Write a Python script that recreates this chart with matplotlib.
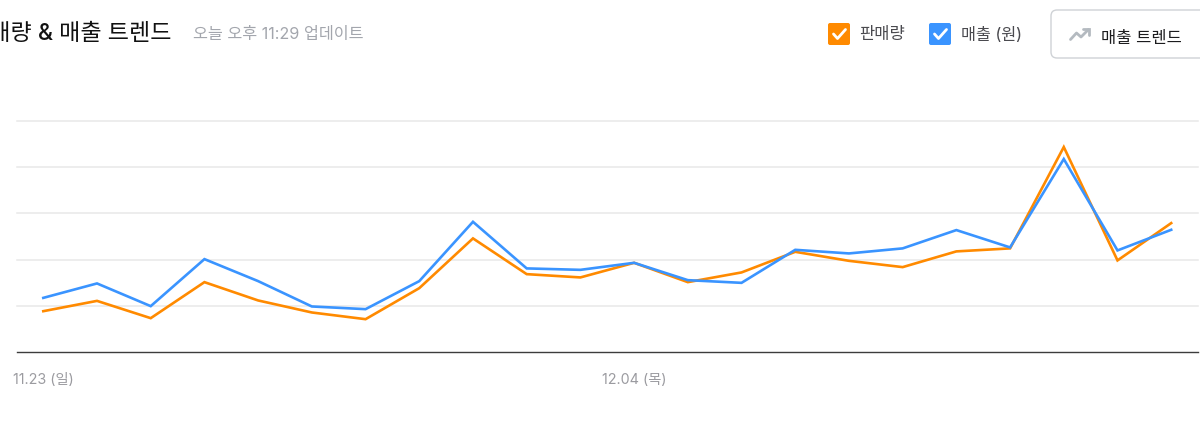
import matplotlib
matplotlib.use("Agg")
import matplotlib.pyplot as plt
from matplotlib.patches import FancyBboxPatch

plt.rcParams['font.family'] = ['Inter', 'Noto Sans CJK KR', 'DejaVu Sans']

# ---- data ----
points = list(range(22))
tick_positions = [0, 11]
tick_labels = ["11.23 (일)", "12.04 (목)"]
sales_qty = [88.7, 111, 73.6, 151.5, 111.9, 85.9, 71.4, 138.5, 246.1, 168.8, 161.7,
             193.3, 151.5, 172.5, 217.1, 197.6, 184, 218, 224.5, 443.7, 198.5, 279.2]
revenue = [117.5, 148.7, 99.6, 201.3, 153.7, 98.9, 93.1, 153.7, 282, 181.2, 178.1,
           193.3, 155.8, 150, 221.4, 213.6, 224.5, 264.1, 226.6, 417.7, 220.1, 264.7]
grid_values = [100, 200, 300, 400, 500]
title = "판매량 & 매출 트렌드"
subtitle = "오늘 오후 11:29 업데이트"
legend_qty = "판매량"
legend_rev = "매출 (원)"
button_label = "매출 트렌드"

ORANGE = "#ff8a00"
BLUE = "#3a94ff"
W, H = 1200, 424

fig = plt.figure(figsize=(W / 100, H / 100), dpi=100, facecolor="white")

# ---- chart ----
left, right, top, bottom = 17, 1198, 121.0, 352.2
ax = fig.add_axes([left / W, 1 - bottom / H, (right - left) / W, (bottom - top) / H])
x0_px, step_px = 43.3, 53.71
ax.set_xlim((left - x0_px) / step_px, (right - x0_px) / step_px)
ax.set_ylim(0, 500)
ax.set_facecolor("none")
for s in ("top", "left", "right"):
    ax.spines[s].set_visible(False)
ax.spines["bottom"].set_color("#3c3c3c")
ax.spines["bottom"].set_linewidth(1.0)
ax.set_yticks(grid_values)
ax.tick_params(axis="y", length=0, labelleft=False)
ax.yaxis.grid(True, color="#e8e8e8", linewidth=1.1)
ax.set_axisbelow(True)
for gl in ax.get_ygridlines():
    gl.set_clip_on(False)
ax.set_xticks(tick_positions)
ax.set_xticklabels(tick_labels, fontsize=10.3, color="#9b9ba0")
ax.tick_params(axis="x", length=0, pad=15)

ax.plot(points, sales_qty, color=ORANGE, linewidth=1.9, solid_joinstyle="miter", clip_on=False, zorder=3)
ax.plot(points, revenue, color=BLUE, linewidth=1.9, solid_joinstyle="miter", clip_on=False, zorder=4)

# ---- header (pixel coordinates) ----
ov = fig.add_axes([0, 0, 1, 1])
ov.set_xlim(0, W)
ov.set_ylim(H, 0)
ov.axis("off")
ov.patch.set_alpha(0)

ov.text(172, 33.5, title, ha="right", va="center", fontsize=16.6, color="#111111", fontweight="medium")
ov.text(193, 34.5, subtitle, ha="left", va="center", fontsize=11.7, color="#a3a6ad")


def checkbox(x, y, size, color):
    ov.add_patch(FancyBboxPatch((x + 2, y + 2), size - 4, size - 4,
                                boxstyle="round,pad=2,rounding_size=2",
                                facecolor=color, edgecolor="none"))
    ov.plot([x + 5.5, x + 9.5, x + 17.5], [y + 11, y + 15.5, y + 6.5], color="white",
            linewidth=2.0, solid_capstyle="round", solid_joinstyle="round")


checkbox(828, 23, 22, ORANGE)
checkbox(929, 23, 22, BLUE)
ov.text(859, 35, legend_qty, ha="left", va="center", fontsize=11.9, color="#4a4a4f")
ov.text(961, 35, legend_rev, ha="left", va="center", fontsize=11.7, color="#4a4a4f")

ov.add_patch(FancyBboxPatch((1055, 14), 160, 40,
                            boxstyle="round,pad=4,rounding_size=6",
                            facecolor="white", edgecolor="#cfd2d6", linewidth=1.0))
ov.plot([1070.5, 1076.5, 1081, 1088.5], [39.5, 33, 37, 29.5], color="#b4bac0",
        linewidth=2, solid_joinstyle="round", solid_capstyle="round")
ov.plot([1083, 1089, 1089], [29, 29, 35], color="#b4bac0", linewidth=2,
        solid_joinstyle="miter", solid_capstyle="round")
ov.text(1101, 38, button_label, ha="left", va="center", fontsize=11.9, color="#1c1c1e")

fig.savefig("out.png", dpi=100, facecolor="white")
